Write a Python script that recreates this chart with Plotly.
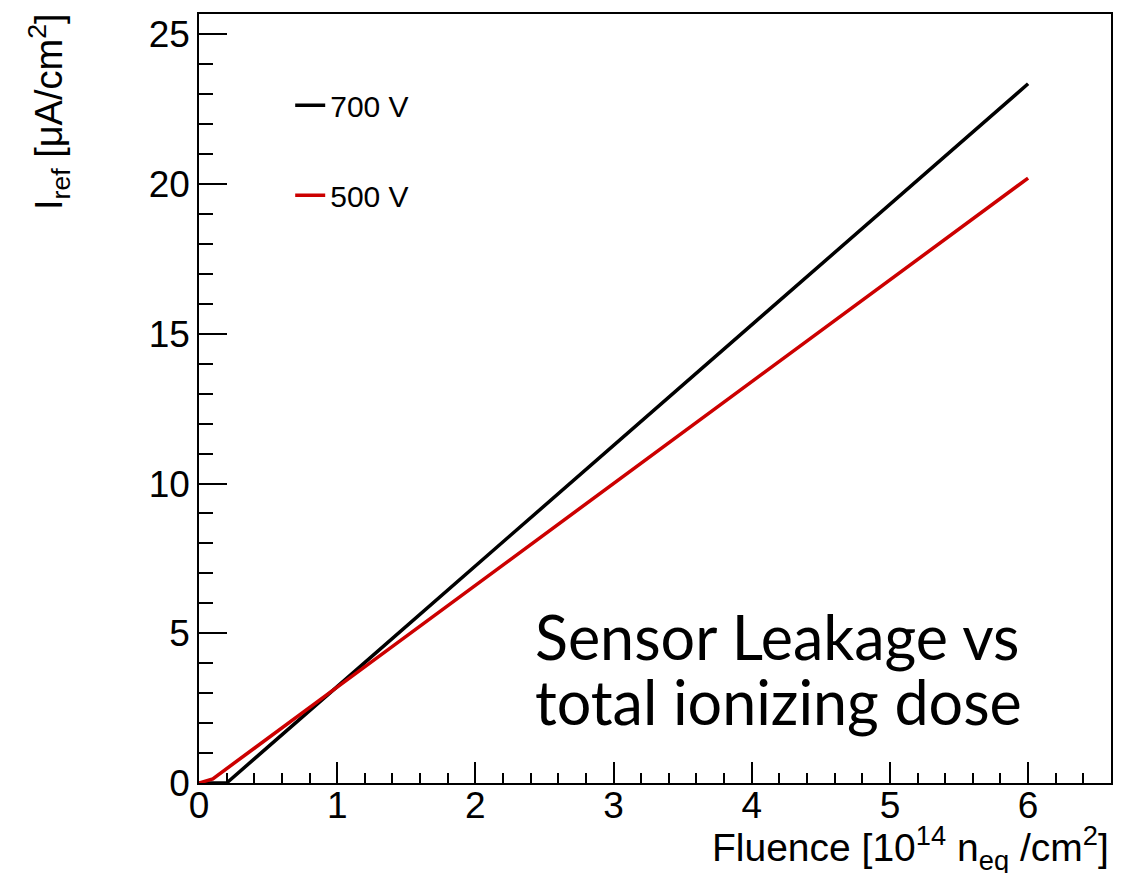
import plotly.graph_objects as go

# Data
fluence_700 = [0, 0.2, 1, 2, 3, 4, 5, 6]
iref_700 = [0, 0, 3.22, 7.25, 11.27, 15.3, 19.32, 23.35]

fluence_500 = [0, 0.1, 1, 2, 3, 4, 5, 6]
iref_500 = [0, 0.14, 3.2, 6.6, 10.0, 13.4, 16.8, 20.2]

series_names = ["700 V", "500 V"]
series_colors = ["#000000", "#cc0000"]

x_ticks = [0, 1, 2, 3, 4, 5, 6]
y_ticks = [0, 5, 10, 15, 20, 25]

W, H = 1126, 873
ML, MR, MT, MB = 199, 15, 14, 90
PW, PH = W - ML - MR, H - MT - MB

fig = go.Figure()
fig.add_trace(go.Scatter(x=fluence_700, y=iref_700, mode="lines", name=series_names[0],
                         legendgroup="a",
                         line=dict(color=series_colors[0], width=3.5)))
fig.add_trace(go.Scatter(x=fluence_500, y=iref_500, mode="lines", name=series_names[1],
                         legendgroup="b",
                         line=dict(color=series_colors[1], width=3.5)))

tick_font = dict(family="Liberation Sans, Arial, sans-serif", size=37, color="black")

fig.update_layout(
    width=W, height=H,
    margin=dict(l=ML, r=MR, t=MT, b=MB),
    paper_bgcolor="white", plot_bgcolor="white",
    showlegend=True,
    legend=dict(x=0.1, y=0.915, xanchor="left", yanchor="top",
                bgcolor="rgba(0,0,0,0)", borderwidth=0,
                font=dict(family="Liberation Sans, Arial, sans-serif", size=30, color="black"),
                tracegroupgap=48, traceorder="grouped"),
    xaxis=dict(range=[0, 6.6], tickvals=x_ticks, ticktext=[str(v) for v in x_ticks],
               ticks="inside", ticklen=21, tickwidth=1.5, tickcolor="black",
               showline=True, linecolor="black", linewidth=1.5, mirror=True,
               showgrid=False, zeroline=False, tickfont=tick_font, ticklabelstandoff=-11,
               minor=dict(dtick=0.2, tick0=0, ticks="inside", ticklen=10, tickwidth=1.5,
                          tickcolor="black", showgrid=False)),
    yaxis=dict(range=[0, 25.68], tickvals=y_ticks, ticktext=[str(v) for v in y_ticks],
               ticks="inside", ticklen=28, tickwidth=1.5, tickcolor="black",
               showline=True, linecolor="black", linewidth=1.5, mirror=True,
               showgrid=False, zeroline=False, tickfont=tick_font,
               minor=dict(dtick=1, tick0=0, ticks="inside", ticklen=14, tickwidth=1.5,
                          tickcolor="black", showgrid=False)),
)

# Axis titles (ROOT style: aligned to the end of the axis)
fig.add_annotation(xref="paper", yref="paper", x=1.0, y=0, xanchor="right", yanchor="top",
                   yshift=-35, showarrow=False,
                   text="Fluence [10<sup>14</sup> n<sub>eq</sub> /cm<sup>2</sup>]",
                   font=dict(family="Liberation Sans, Arial, sans-serif", size=39, color="black"))
fig.add_annotation(xref="paper", yref="paper", x=0, y=1.0, xanchor="center", yanchor="middle",
                   xshift=-150, yshift=-98, showarrow=False, textangle=-90,
                   text="I<sub>ref</sub> [μA/cm<sup>2</sup>]",
                   font=dict(family="Liberation Sans, Arial, sans-serif", size=38, color="black"))

# Text label inside the plot
label_font = dict(family="Lato, sans-serif", size=61, color="black")
fig.add_annotation(xref="paper", yref="paper", x=(533 - ML) / PW, y=(H - MB - 636) / PH,
                   xanchor="left", yanchor="middle", showarrow=False,
                   text="Sensor Leakage vs", font=label_font)
fig.add_annotation(xref="paper", yref="paper", x=(533 - ML) / PW, y=(H - MB - 701) / PH,
                   xanchor="left", yanchor="middle", showarrow=False,
                   text="total ionizing dose", font=label_font)

fig.write_html("out.html")
